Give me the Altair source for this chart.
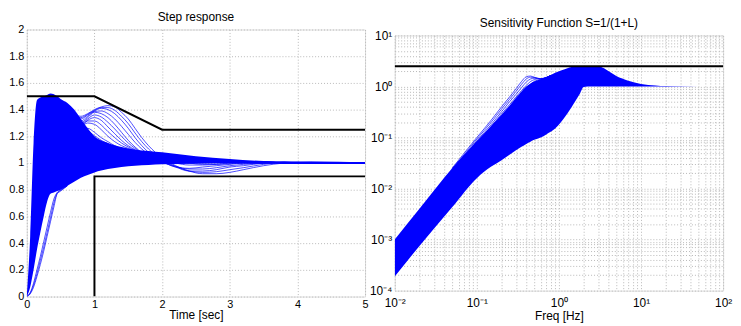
import altair as alt
import pandas as pd

FONT = "Liberation Sans"
BLUE = "#0000ff"

# ---------------- Step response (left) ----------------
T_CORE = [0, 0.05, 0.1, 0.15, 0.2, 0.25, 0.3, 0.35, 0.4, 0.45, 0.5, 0.6, 0.7, 0.8, 0.9,
          1.0, 1.2, 1.4, 1.6, 1.8, 2.0, 2.5, 3.0, 3.5, 4.0, 4.5, 5.0]
CORE_HI = [0, 0.45, 1.15, 1.47, 1.49, 1.50, 1.51, 1.52, 1.515, 1.50, 1.48, 1.45, 1.40, 1.33, 1.26,
           1.20, 1.15, 1.12, 1.10, 1.09, 1.08, 1.05, 1.03, 1.015, 1.01, 1.005, 1.003]
CORE_LO = [0, 0.07, 0.2, 0.35, 0.48, 0.6, 0.71, 0.77, 0.78, 0.79, 0.80, 0.83, 0.86, 0.89, 0.91,
           0.93, 0.955, 0.97, 0.98, 0.985, 0.99, 0.995, 0.998, 1.0, 1.0, 1.0, 1.0]

T_FAN = [0.4, 0.5, 0.6, 0.7, 0.8, 0.9, 1.0, 1.1, 1.2, 1.3, 1.4, 1.5, 1.6, 1.7, 1.8, 1.9, 2.0,
         2.2, 2.4, 2.6, 2.8, 3.0, 3.2, 3.5, 3.8, 4.2, 5.0]
FAN_1 = [1.51, 1.46, 1.40, 1.36, 1.35, 1.37, 1.40, 1.42, 1.43, 1.42, 1.38, 1.33, 1.26, 1.19, 1.13, 1.08, 1.04,
         0.98, 0.94, 0.92, 0.92, 0.93, 0.95, 0.98, 1.00, 1.01, 1.00]
FAN_2 = [1.51, 1.45, 1.39, 1.345, 1.34, 1.365, 1.395, 1.415, 1.415, 1.395, 1.35, 1.295, 1.225, 1.16, 1.105, 1.06, 1.025,
         0.975, 0.94, 0.93, 0.935, 0.95, 0.965, 0.99, 1.005, 1.005, 1.00]
FAN_3 = [1.50, 1.44, 1.38, 1.33, 1.33, 1.36, 1.39, 1.41, 1.40, 1.37, 1.32, 1.26, 1.19, 1.13, 1.08, 1.04, 1.01,
         0.97, 0.94, 0.94, 0.95, 0.97, 0.98, 1.00, 1.01, 1.00, 1.00]
FAN_4 = [1.50, 1.43, 1.365, 1.315, 1.315, 1.35, 1.385, 1.39, 1.37, 1.33, 1.275, 1.215, 1.155, 1.105, 1.065, 1.035, 1.01,
         0.975, 0.955, 0.955, 0.965, 0.98, 0.99, 1.00, 1.005, 1.00, 1.00]
FAN_5 = [1.50, 1.42, 1.35, 1.30, 1.30, 1.34, 1.38, 1.37, 1.34, 1.29, 1.23, 1.17, 1.12, 1.08, 1.05, 1.03, 1.01,
         0.97, 0.96, 0.97, 0.98, 0.99, 1.00, 1.00, 1.00, 1.00, 1.00]
FAN_6 = [1.495, 1.41, 1.335, 1.285, 1.29, 1.33, 1.36, 1.345, 1.305, 1.255, 1.20, 1.15, 1.11, 1.08, 1.055, 1.04, 1.025,
         1.00, 0.985, 0.985, 0.99, 0.995, 1.00, 1.00, 1.00, 1.00, 1.00]
FAN_7 = [1.49, 1.40, 1.32, 1.27, 1.28, 1.32, 1.34, 1.32, 1.27, 1.22, 1.17, 1.13, 1.10, 1.08, 1.06, 1.05, 1.04,
         1.02, 1.00, 0.99, 0.99, 1.00, 1.00, 1.00, 1.00, 1.00, 1.00]
FAN_8 = [1.485, 1.39, 1.305, 1.26, 1.275, 1.315, 1.315, 1.285, 1.235, 1.19, 1.15, 1.12, 1.095, 1.08, 1.065, 1.055, 1.045,
         1.03, 1.015, 1.005, 1.005, 1.005, 1.00, 1.00, 1.00, 1.00, 1.00]
FAN_9 = [1.48, 1.38, 1.29, 1.25, 1.27, 1.30, 1.29, 1.25, 1.20, 1.16, 1.13, 1.11, 1.09, 1.08, 1.07, 1.06, 1.05,
         1.04, 1.03, 1.02, 1.02, 1.01, 1.01, 1.00, 1.00, 1.00, 1.00]
FAN_10 = [1.47, 1.36, 1.27, 1.23, 1.25, 1.26, 1.23, 1.19, 1.16, 1.13, 1.11, 1.10, 1.09, 1.08, 1.07, 1.06, 1.06,
          1.05, 1.04, 1.03, 1.02, 1.02, 1.01, 1.01, 1.00, 1.00, 1.00]
FAN_11 = [1.465, 1.35, 1.26, 1.22, 1.235, 1.235, 1.205, 1.17, 1.145, 1.12, 1.105, 1.095, 1.085, 1.075, 1.07, 1.06, 1.06,
          1.05, 1.04, 1.03, 1.02, 1.02, 1.01, 1.01, 1.00, 1.00, 1.00]
FAN_12 = [1.46, 1.34, 1.25, 1.21, 1.22, 1.21, 1.18, 1.15, 1.13, 1.11, 1.10, 1.09, 1.08, 1.07, 1.07, 1.06, 1.06,
          1.05, 1.04, 1.03, 1.02, 1.02, 1.01, 1.01, 1.00, 1.00, 1.00]
FAN_13 = [1.45, 1.32, 1.23, 1.18, 1.18, 1.16, 1.14, 1.12, 1.11, 1.10, 1.09, 1.08, 1.08, 1.07, 1.07, 1.06, 1.06,
          1.05, 1.04, 1.03, 1.02, 1.02, 1.01, 1.01, 1.00, 1.00, 1.00]

T_SLOW = [0, 0.05, 0.1, 0.15, 0.2, 0.25, 0.3, 0.35, 0.4, 0.45, 0.5, 0.6]
SLOW_1 = [0, 0.03, 0.10, 0.20, 0.30, 0.41, 0.52, 0.63, 0.73, 0.78, 0.80, 0.83]
SLOW_2 = [0, 0.025, 0.085, 0.17, 0.27, 0.37, 0.48, 0.59, 0.70, 0.775, 0.795, 0.83]
SLOW_3 = [0, 0.02, 0.07, 0.15, 0.24, 0.34, 0.45, 0.56, 0.67, 0.77, 0.79, 0.83]

BOUND_UP_T = [0, 1, 2, 5]
BOUND_UP_V = [1.5, 1.5, 1.25, 1.25]
BOUND_LO_T = [1, 1, 5]
BOUND_LO_V = [0, 0.9, 0.9]

X_TICKS_L = [0, 1, 2, 3, 4, 5]
Y_TICKS_L = [0, 0.2, 0.4, 0.6, 0.8, 1, 1.2, 1.4, 1.6, 1.8, 2]

# ---------------- Sensitivity (right) ----------------
F_BAND = [0.01, 0.02, 0.05, 0.1, 0.15, 0.2, 0.25, 0.3, 0.35, 0.4, 0.45, 0.5, 0.6, 0.7, 0.9,
          1.2, 1.5, 1.8, 2.0, 2.5, 3.0, 3.5, 4, 5, 7, 10, 15, 20, 50, 100]
BAND_HI = [1e-3, 4e-3, 0.025, 0.085, 0.17, 0.28, 0.42, 0.6, 0.8, 1.0, 1.15, 1.25, 1.38, 1.52, 1.85,
           2.2, 2.45, 2.5, 2.5, 2.5, 2.5, 2.3, 2.0, 1.6, 1.3, 1.12, 1.05, 1.02, 1.0, 1.0]
BAND_LO = [1.9e-4, 7.5e-4, 4.3e-3, 0.016, 0.027, 0.036, 0.046, 0.056, 0.066, 0.075, 0.083, 0.09, 0.1, 0.115, 0.15,
           0.26, 0.45, 0.72, 0.98, 1.0, 1.0, 1.0, 1.0, 1.0, 1.0, 1.0, 1.0, 1.0, 1.0, 1.0]

F_BUMP = [0.05, 0.1, 0.15, 0.2, 0.25, 0.3, 0.35, 0.4, 0.45, 0.5, 0.55, 0.6, 0.7, 0.8]
BUMP_1 = [0.025, 0.1, 0.22, 0.4, 0.62, 0.9, 1.25, 1.55, 1.6, 1.52, 1.45, 1.42, 1.5, 1.65]
BUMP_2 = [0.023, 0.093, 0.2, 0.36, 0.56, 0.8, 1.1, 1.4, 1.52, 1.5, 1.45, 1.42, 1.5, 1.65]
BUMP_3 = [0.021, 0.086, 0.18, 0.32, 0.5, 0.7, 0.95, 1.22, 1.4, 1.45, 1.43, 1.42, 1.5, 1.65]
BUMP_4 = [0.019, 0.079, 0.165, 0.29, 0.44, 0.62, 0.83, 1.05, 1.25, 1.36, 1.4, 1.4, 1.49, 1.65]
BUMP_5 = [0.017, 0.072, 0.15, 0.26, 0.39, 0.55, 0.73, 0.92, 1.1, 1.25, 1.33, 1.37, 1.48, 1.65]
BUMP_6 = [0.016, 0.066, 0.135, 0.23, 0.35, 0.49, 0.64, 0.8, 0.96, 1.1, 1.22, 1.3, 1.46, 1.63]

S_MAX_F = [0.01, 100]
S_MAX_V = [2.5, 2.5]

X_TICKS_R = [m * 10.0 ** e for e in range(-2, 2) for m in range(1, 10)] + [100.0]
Y_TICKS_R = [m * 10.0 ** e for e in range(-4, 1) for m in range(1, 10)] + [10.0]

# ---------------- frames ----------------
core_df = pd.DataFrame({"t": T_CORE, "hi": CORE_HI, "lo": CORE_LO})
fan_rows = []
FANS = [FAN_1, FAN_2, FAN_3, FAN_4, FAN_5, FAN_6, FAN_7, FAN_8, FAN_9, FAN_10, FAN_11, FAN_12, FAN_13]
for k, arr in enumerate(FANS):
    for i, (t, v) in enumerate(zip(T_FAN, arr)):
        fan_rows.append({"id": f"f{k}", "i": i, "t": t, "v": v})
for k, arr in enumerate([SLOW_1, SLOW_2, SLOW_3]):
    for i, (t, v) in enumerate(zip(T_SLOW, arr)):
        fan_rows.append({"id": f"s{k}", "i": i, "t": t, "v": v})
lines_df = pd.DataFrame(fan_rows)
bound_rows = []
for i, (t, v) in enumerate(zip(BOUND_UP_T, BOUND_UP_V)):
    bound_rows.append({"id": "up", "i": i, "t": t, "v": v})
for i, (t, v) in enumerate(zip(BOUND_LO_T, BOUND_LO_V)):
    bound_rows.append({"id": "lo", "i": i, "t": t, "v": v})
bounds_df = pd.DataFrame(bound_rows)

band_df = pd.DataFrame({"f": F_BAND, "hi": BAND_HI, "lo": BAND_LO})
bump_rows = []
for k, arr in enumerate([BUMP_1, BUMP_2, BUMP_3, BUMP_4, BUMP_5, BUMP_6]):
    for i, (f, v) in enumerate(zip(F_BUMP, arr)):
        bump_rows.append({"id": f"b{k}", "i": i, "f": f, "v": v})
bump_df = pd.DataFrame(bump_rows)
smax_df = pd.DataFrame({"f": S_MAX_F, "v": S_MAX_V})

GRID = dict(grid=True, gridColor="#b8b8b8", gridDash=[1, 2], gridWidth=1,
            domain=False, ticks=False, labelFont=FONT,
            labelColor="#000", titleFont=FONT, titleFontSize=12, titleFontWeight="normal",
            titleColor="#000", labelFlush=False, labelOverlap=False)


def xl(field):
    return alt.X(field, scale=alt.Scale(domain=[0, 5], nice=False),
                 axis=alt.Axis(values=X_TICKS_L, title="Time [sec]", format="~g", labelFontSize=11,
                               labelPadding=2, titlePadding=0, **GRID))


def yl(field):
    return alt.Y(field, scale=alt.Scale(domain=[0, 2], nice=False),
                 axis=alt.Axis(values=Y_TICKS_L, title=None, format="~g", labelFontSize=11,
                               labelPadding=3, **GRID))


core = alt.Chart(core_df).mark_area(color=BLUE, interpolate="monotone", clip=True).encode(
    x=xl("t:Q"), y=yl("hi:Q"), y2="lo:Q")
fans = alt.Chart(lines_df).mark_line(color=BLUE, strokeWidth=0.7, interpolate="monotone", clip=True).encode(
    x=xl("t:Q"), y=yl("v:Q"), detail="id:N", order="i:Q")
bounds = alt.Chart(bounds_df).mark_line(color="#000", strokeWidth=2, clip=True).encode(
    x=xl("t:Q"), y=yl("v:Q"), detail="id:N", order="i:Q")

left = alt.layer(core, fans, bounds).properties(
    width=342, height=270,
    title=alt.TitleParams("Step response", font=FONT, fontSize=12, fontWeight="normal",
                          anchor="middle", offset=0))


def pow_label(maxe, mine):
    L = "(log(datum.value)/LN10)"
    sup = {-4: "⁻⁴", -3: "⁻³", -2: "⁻²", -1: "⁻¹", 0: "⁰", 1: "¹", 2: "²"}
    expr = "''"
    for e in range(mine, maxe + 1):
        expr = f"(round({L}) == {e} ? '10{sup[e]}' : {expr})"
    return f"(abs({L} - round({L})) > 0.001 ? '' : {expr})"


def xr(field):
    return alt.X(field, scale=alt.Scale(type="log", domain=[0.01, 100], nice=False),
                 axis=alt.Axis(values=X_TICKS_R, title="Freq [Hz]", labelExpr=pow_label(2, -2),
                               labelFontSize=12, labelPadding=7, titlePadding=2, **GRID))


def yr(field):
    return alt.Y(field, scale=alt.Scale(type="log", domain=[1e-4, 10], nice=False),
                 axis=alt.Axis(values=Y_TICKS_R, title=None, labelExpr=pow_label(1, -4),
                               labelFontSize=12, labelPadding=3, **GRID))


band = alt.Chart(band_df).mark_area(color=BLUE, interpolate="monotone", clip=True).encode(
    x=xr("f:Q"), y=yr("hi:Q"), y2="lo:Q")
bumps = alt.Chart(bump_df).mark_line(color=BLUE, strokeWidth=0.7, interpolate="monotone", clip=True).encode(
    x=xr("f:Q"), y=yr("v:Q"), detail="id:N", order="i:Q")
smax = alt.Chart(smax_df).mark_line(color="#000", strokeWidth=2, clip=True).encode(
    x=xr("f:Q"), y=yr("v:Q"))

right = alt.layer(band, bumps, smax).properties(
    width=332, height=258,
    title=alt.TitleParams("Sensitivity Function S=1/(1+L)", font=FONT, fontSize=12, fontWeight="normal",
                          anchor="middle", offset=0))

chart = alt.hconcat(left, right, spacing=30, center=True, bounds="flush").properties(
    padding={"left": 0, "top": 0, "right": 0, "bottom": 0}
).configure_view(stroke="#000", strokeWidth=1).configure(background="white")

chart.save("out.html", embed_options={"renderer": "svg", "actions": False})
